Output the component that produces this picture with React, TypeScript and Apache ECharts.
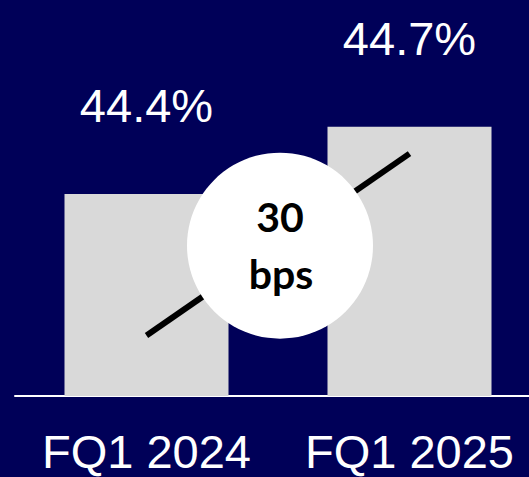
import React, { useEffect, useRef } from "react";
import * as echarts from "echarts";

const categories = ["FQ1 2024", "FQ1 2025"];
const marginValues = [44.4, 44.7];
const valueLabels = ["44.4%", "44.7%"];
const axisRange = [43.5, 45.0];
const trendLine = [43.77, 44.58];
const badgeValue = 44.17;
const badgeText = ["30", "bps"];

const BG = "#000058";
const BAR = "#d9d9d9";

export default function App() {
  const ref = useRef<HTMLDivElement>(null);
  useEffect(() => {
    if (!ref.current) return;
    const chart = echarts.init(ref.current, undefined, { renderer: "svg" });
    chart.setOption({
      animation: false,
      backgroundColor: BG,
      grid: {
        left: 15,
        right: -12,
        top: 59.4,
        bottom: 81,
        containLabel: false,
        outerBoundsMode: "none",
      },
      xAxis: {
        type: "category",
        data: categories,
        axisLine: { lineStyle: { color: "#ffffff", width: 2 } },
        axisTick: { show: false },
        axisLabel: {
          interval: 0,
          hideOverlap: false,
          color: "#ffffff",
          fontFamily: "Liberation Sans",
          fontSize: 47,
          margin: 32,
        },
      },
      yAxis: {
        type: "value",
        min: axisRange[0],
        max: axisRange[1],
        show: false,
        splitLine: { show: false },
      },
      series: [
        {
          type: "bar",
          data: marginValues,
          barWidth: 164,
          itemStyle: { color: BAR },
          label: {
            show: true,
            position: "top",
            distance: 65,
            color: "#ffffff",
            fontFamily: "Liberation Sans",
            fontSize: 47,
            formatter: (p: any) => valueLabels[p.dataIndex],
          },
          markLine: {
            silent: true,
            symbol: ["none", "none"],
            label: { show: false },
            lineStyle: { color: "#000000", width: 6, type: "solid" },
            data: [[{ coord: [0, trendLine[0]] }, { coord: [1, trendLine[1]] }]],
          },
        },
      ],
    });
    const a = chart.convertToPixel({ seriesIndex: 0 }, [0, badgeValue]) as number[];
    const b = chart.convertToPixel({ seriesIndex: 0 }, [1, badgeValue]) as number[];
    const cx = (a[0] + b[0]) / 2 + 2;
    const cy = a[1];
    chart.setOption({
      graphic: [
        {
          type: "circle",
          shape: { cx, cy, r: 93 },
          style: { fill: "#ffffff" },
          z: 100,
        },
        {
          type: "text",
          x: cx,
          y: cy - 29,
          z: 101,
          style: {
            text: badgeText[0],
            fill: "#000000",
            font: "bold 41px Lato",
            textAlign: "center",
            textVerticalAlign: "middle",
          },
        },
        {
          type: "text",
          x: cx + 1,
          y: cy + 28,
          z: 101,
          style: {
            text: badgeText[1],
            fill: "#000000",
            font: "bold 41px Lato",
            textAlign: "center",
            textVerticalAlign: "middle",
          },
        },
      ],
    });
    return () => chart.dispose();
  }, []);
  return (
    <div
      ref={ref}
      style={{ position: "absolute", left: 0, top: 0, width: 529, height: 477 }}
    />
  );
}
